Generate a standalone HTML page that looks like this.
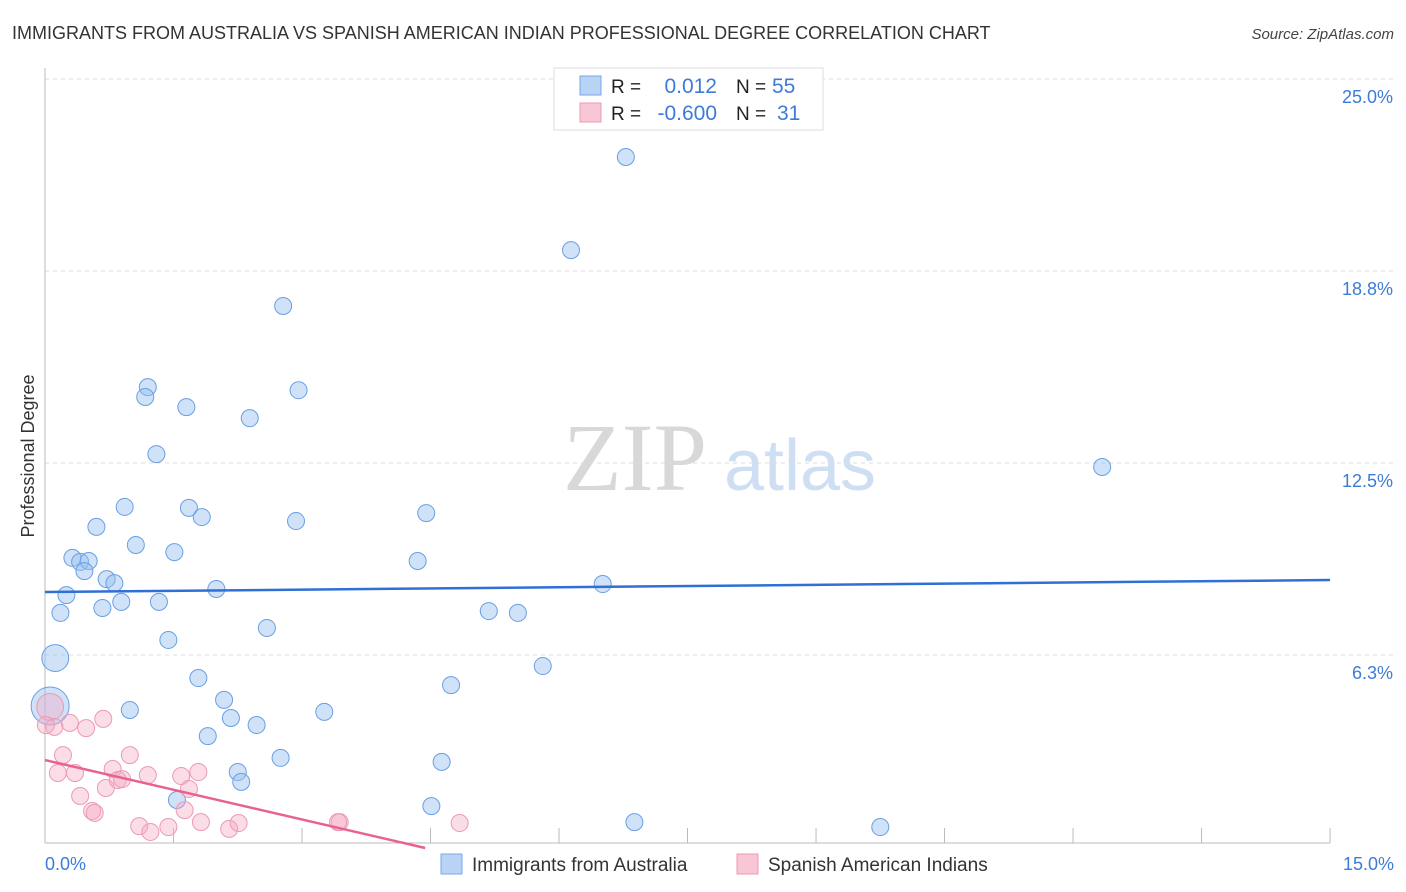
<!DOCTYPE html>
<html><head><meta charset="utf-8"><style>
body{margin:0;background:#fff;font-family:"Liberation Sans",sans-serif}
svg{display:block}
</style></head><body>
<svg id="c" width="1406" height="892">
<text x="12" y="39" font-size="18" fill="#333">IMMIGRANTS FROM AUSTRALIA VS SPANISH AMERICAN INDIAN PROFESSIONAL DEGREE CORRELATION CHART</text>
<text x="1394" y="39" font-size="15" fill="#444" font-style="italic" text-anchor="end">Source: ZipAtlas.com</text>
<g>
<text x="635" y="490" font-size="96" font-family="Liberation Serif,serif" fill="#d8d8d8" text-anchor="middle">ZIP</text>
<text x="800" y="490" font-size="72" fill="#cfdff3" text-anchor="middle">atlas</text>
</g>
<g id="grid"></g>
<g id="axes"></g>
<g id="marks"></g>
<text transform="translate(34,456) rotate(-90)" font-size="18" fill="#333" text-anchor="middle">Professional Degree</text>
<text x="45" y="870" font-size="18" fill="#3d7bd9">0.0%</text>
<text x="1394" y="870" font-size="18" fill="#3d7bd9" text-anchor="end">15.0%</text>
<g>
<rect x="554" y="68" width="269" height="62" fill="#fff" stroke="#ddd"/>
<rect x="580" y="76" width="21" height="19" fill="#b9d3f5" stroke="#7aa6e6"/>
<rect x="580" y="103" width="21" height="19" fill="#f9c6d5" stroke="#ec9ab2"/>
<text x="611" y="93" font-size="19" fill="#222">R =</text>
<text x="717" y="93" font-size="21" fill="#3d7bd9" text-anchor="end">0.012</text>
<text x="736" y="93" font-size="19" fill="#222">N =</text>
<text x="772" y="93" font-size="21" fill="#3d7bd9">55</text>
<text x="611" y="120" font-size="19" fill="#222">R =</text>
<text x="717" y="120" font-size="21" fill="#3d7bd9" text-anchor="end">-0.600</text>
<text x="736" y="120" font-size="19" fill="#222">N =</text>
<text x="777" y="120" font-size="21" fill="#3d7bd9">31</text>
</g>
<g>
<rect x="441" y="854" width="21" height="20" fill="#b9d3f5" stroke="#7aa6e6"/>
<text x="472" y="871" font-size="19" fill="#333">Immigrants from Australia</text>
<rect x="737" y="854" width="21" height="20" fill="#f9c6d5" stroke="#ec9ab2"/>
<text x="768" y="871" font-size="19" fill="#333">Spanish American Indians</text>
</g>
</svg>
<script>
const yTicks=[6.25,12.5,18.75,25];
const yTickLabels=["6.3%","12.5%","18.8%","25.0%"];
const xTicks=[0,1.5,3,4.5,6,7.5,9,10.5,12,13.5,15];
const blueX=[6.78,6.14,2.78,2.96,1.20,1.17,1.65,2.39,1.30,12.34,0.93,1.68,1.83,0.60,2.93,4.45,1.06,1.51,0.32,0.41,0.51,0.46,4.35,0.72,0.81,6.51,0.25,2.00,0.18,0.67,0.89,1.33,5.18,5.52,1.44,2.59,0.12,5.81,1.79,4.74,2.09,0.99,3.26,0.06,2.17,2.47,1.90,2.75,4.63,2.25,2.29,1.54,4.51,6.88,9.75];
const blueY=[22.46,19.43,17.61,14.87,14.97,14.65,14.32,13.96,12.79,12.37,11.07,11.04,10.74,10.42,10.61,10.87,9.83,9.60,9.41,9.28,9.31,8.98,9.31,8.72,8.59,8.56,8.20,8.40,7.62,7.78,7.98,7.98,7.68,7.62,6.74,7.13,6.15,5.89,5.50,5.27,4.79,4.46,4.40,4.59,4.20,3.97,3.61,2.90,2.77,2.44,2.12,1.53,1.33,0.81,0.65];
const blueW=[1,1,1,1,1,1,1,1,1,1,1,1,1,1,1,1,1,1,1,1,1,1,1,1,1,1,1,1,1,1,1,1,1,1,1,1,2.5,1,1,1,1,1,1,5,1,1,1,1,1,1,1,1,1,1,1];
const pinkX=[0.06,0.11,0.29,0.48,0.68,0.21,0.99,0.15,0.35,0.79,1.20,1.59,1.79,0.41,0.71,0.85,0.90,1.68,0.55,0.58,1.10,1.23,1.44,1.82,1.63,2.15,2.26,3.44,3.42,4.84,0.01];
const pinkY=[4.56,3.91,4.04,3.87,4.17,2.99,2.99,2.41,2.41,2.54,2.34,2.31,2.44,1.66,1.92,2.18,2.21,1.89,1.17,1.11,0.68,0.49,0.65,0.81,1.20,0.59,0.78,0.81,0.81,0.78,3.97];
const pinkW=[2.5,1,1,1,1,1,1,1,1,1,1,1,1,1,1,1,1,1,1,1,1,1,1,1,1,1,1,1,1,1,1];
const blueTrend=[8.30,8.69];
const pinkTrend=[2.83,-0.645];
const NS="http://www.w3.org/2000/svg";
const X=v=>45+v*85.67, Y=v=>847-v*30.72;
function mk(t,a,p){const e=document.createElementNS(NS,t);for(const k in a)e.setAttribute(k,a[k]);p.appendChild(e);return e;}
const grid=document.getElementById('grid'),axes=document.getElementById('axes'),marks=document.getElementById('marks');
yTicks.forEach((t,i)=>{
 const l=mk('line',{x1:45,x2:1393,y1:Y(t),y2:Y(t),stroke:'#ddd','stroke-dasharray':'4,4'},grid);
 
 
 const tx=mk('text',{x:1393,y:Y(t)+24,'font-size':18,fill:'#3d7bd9','text-anchor':'end'},grid);
 tx.textContent=yTickLabels[i];
 
 
});
const ya=mk('line',{x1:45,x2:45,y1:68,y2:843,stroke:'#bbb'},axes);


const xa=mk('line',{x1:45,x2:1330,y1:843,y2:843,stroke:'#bbb'},axes);


xTicks.forEach(t=>{
 const l=mk('line',{x1:X(t),x2:X(t),y1:828,y2:843,stroke:'#bbb'},axes);
 
 
});
blueX.forEach((v,i)=>{
 const c=mk('circle',{cx:X(v),cy:Y(blueY[i]),r:8.5*Math.sqrt(blueW[i]),fill:'rgba(150,190,240,0.45)',stroke:'#6a9fe3','stroke-width':1},marks);
 
 
});
pinkX.forEach((v,i)=>{
 const c=mk('circle',{cx:X(v),cy:Y(pinkY[i]),r:8.5*Math.sqrt(pinkW[i]),fill:'rgba(245,170,195,0.4)',stroke:'#ec9ab2','stroke-width':1},marks);
 
 
});
const bt=mk('line',{x1:X(0),x2:X(15),y1:Y(blueTrend[0]),y2:Y(blueTrend[1]),stroke:'#2f6fd6','stroke-width':2.5},marks);


const xe=-pinkTrend[0]/pinkTrend[1]+0.05;
const pt=mk('line',{x1:X(0),x2:X(xe),y1:Y(pinkTrend[0]),y2:Y(pinkTrend[0]+pinkTrend[1]*xe),stroke:'#e8628f','stroke-width':2.5},marks);


</script>
</body></html>
